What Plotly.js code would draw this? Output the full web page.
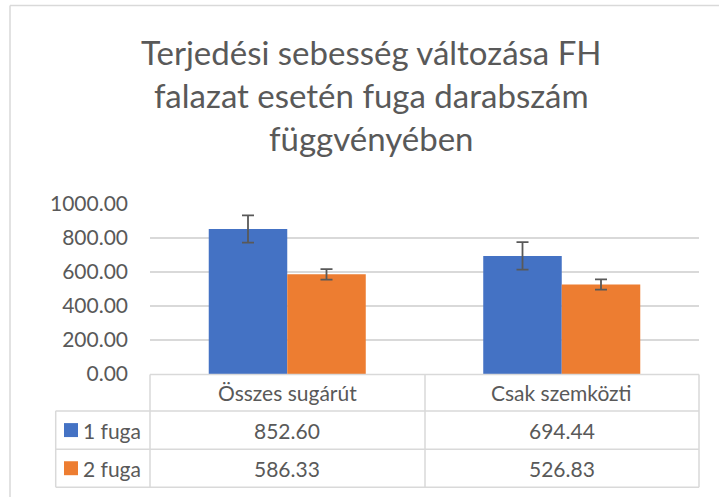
<!DOCTYPE html>
<html>
<head>
<meta charset="utf-8">
<script src="https://cdn.plot.ly/plotly-3.0.1.min.js"></script>
<style>html,body{margin:0;padding:0;background:#fff;}#chart{width:719px;height:497px;}</style>
</head>
<body>
<div id="chart"></div>
<script>
// ---- data ----
const categories = ["Összes sugárút", "Csak szemközti"];
const seriesNames = ["1 fuga", "2 fuga"];
const fuga1 = [852.60, 694.44];
const fuga2 = [586.33, 526.83];
const fuga1Err = [80, 81];
const fuga2Err = [31, 30];
const yTicks = [0, 200, 400, 600, 800, 1000];
const yTickLabels = ["0.00", "200.00", "400.00", "600.00", "800.00", "1000.00"];
const titleText = "Terjedési sebesség változása FH<br>falazat esetén fuga darabszám<br>függvényében";

// ---- layout geometry (pixels) ----
const W = 719, H = 497;
const L = 150, R = 20, T = 204, B = 122.5;
const plotW = W - L - R, plotH = H - T - B;
const px = x => (x - L) / plotW;          // pixel x -> paper x
const py = y => (H - B - y) / plotH;       // pixel y -> paper y

const blue = "#4472C4", orange = "#ED7D31", txt = "#595959", grid = "#D9D9D9";
const FONT = "Lato, 'Open Sans', sans-serif";

const traces = [
  {type: "bar", name: seriesNames[0], x: categories, y: fuga1,
   marker: {color: blue},
   error_y: {type: "data", array: fuga1Err, visible: true, color: txt, thickness: 1.8, width: 6}},
  {type: "bar", name: seriesNames[1], x: categories, y: fuga2,
   marker: {color: orange},
   error_y: {type: "data", array: fuga2Err, visible: true, color: txt, thickness: 1.8, width: 6}}
];

// table geometry
const rowY = [375, 411.5, 450, 488];
const colX = [55.7, 150, 425, 699];
const shapes = [];
const line = (x0, y0, x1, y1) => shapes.push({type: "line", xref: "paper", yref: "paper",
  x0: px(x0), y0: py(y0), x1: px(x1), y1: py(y1), line: {color: grid, width: 1.5}});
// horizontal lines
line(colX[1], rowY[0], colX[3], rowY[0]);
line(colX[0], rowY[1], colX[3], rowY[1]);
line(colX[0], rowY[2], colX[3], rowY[2]);
line(colX[0], rowY[3], colX[3], rowY[3]);
// vertical lines
line(colX[0], rowY[1], colX[0], rowY[3]);
line(colX[1], rowY[0], colX[1], rowY[3]);
line(colX[2], rowY[0], colX[2], rowY[3]);
line(colX[3], rowY[0], colX[3], rowY[3]);
// outer chart frame (left and top)
line(10, 5, 10, 500);
line(10, 5, 725, 5);
// legend keys
const keyColors = [blue, orange];
const rowCenters = [(rowY[1] + rowY[2]) / 2, (rowY[2] + rowY[3]) / 2];
keyColors.forEach((c, i) => shapes.push({type: "rect", xref: "paper", yref: "paper",
  x0: px(64), x1: px(78), y0: py(rowCenters[i] + 7), y1: py(rowCenters[i] - 7),
  fillcolor: c, line: {width: 0}}));

const annotations = [];
const tf = {family: FONT, size: 21, color: txt};
annotations.push({xref: "paper", yref: "paper", x: px(371), y: py(95), text: titleText,
  showarrow: false, font: {family: FONT, size: 33, color: txt}, xanchor: "center", yanchor: "middle", align: "center"});
categories.forEach(c => annotations.push({xref: "x", yref: "paper", x: c,
  y: py((rowY[0] + rowY[1]) / 2), text: c, showarrow: false, font: tf, xanchor: "center", yanchor: "middle"}));
[fuga1, fuga2].forEach((arr, i) => {
  annotations.push({xref: "paper", yref: "paper", x: px(81), y: py(rowCenters[i]),
    text: seriesNames[i], showarrow: false, font: tf, xanchor: "left", yanchor: "middle"});
  arr.forEach((v, j) => annotations.push({xref: "x", yref: "paper", x: categories[j], y: py(rowCenters[i]),
    text: v.toFixed(2), showarrow: false, font: tf, xanchor: "center", yanchor: "middle"}));
});

const layout = {
  width: W, height: H,
  margin: {l: L, r: R, t: T, b: B, pad: 0},
  paper_bgcolor: "#fff", plot_bgcolor: "#fff",
  font: {family: FONT, color: txt},
  showlegend: false,
  barmode: "group", bargap: 0.428, bargroupgap: 0,
  xaxis: {showticklabels: false, showgrid: false, zeroline: false, showline: false, ticks: ""},
  yaxis: {range: [0, 1000], tickvals: yTicks, ticktext: yTickLabels, showgrid: true,
    gridcolor: grid, gridwidth: 1.3, zeroline: false, showline: false, ticks: "",
    tickfont: {family: FONT, size: 21, color: txt}, ticklabelstandoff: 21},
  shapes: shapes, annotations: annotations
};

Plotly.newPlot("chart", traces, layout, {displayModeBar: false, staticPlot: true});
</script>
</body>
</html>
